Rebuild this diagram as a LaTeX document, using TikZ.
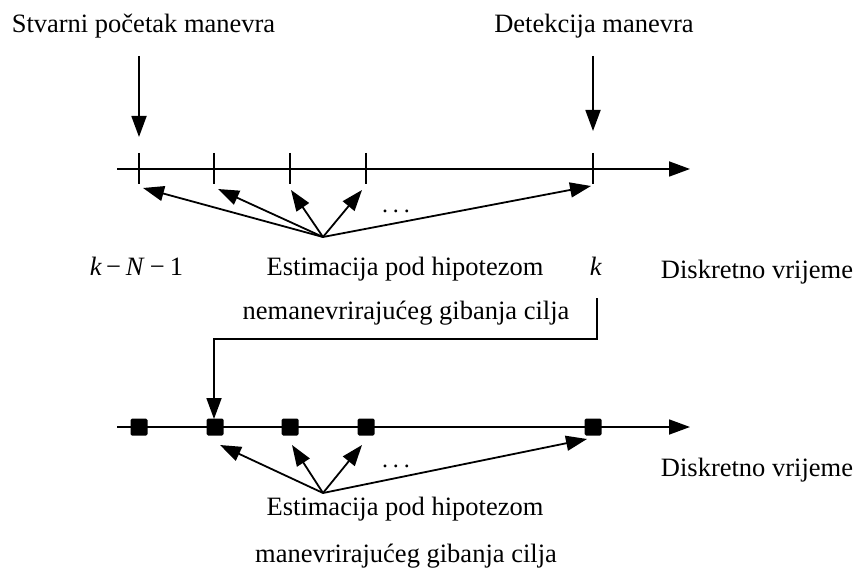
\documentclass[tikz,border=0pt]{standalone}
\usepackage{fontspec}
\setmainfont{Liberation Serif}
\usetikzlibrary{arrows.meta}
\begin{document}
\begin{tikzpicture}[x=1pt,y=-1pt,line width=1.8pt,
  arr/.style={-{Triangle[length=21pt,width=15pt]}},
  lbl/.style={font=\fontsize{26.5}{30}\selectfont,inner sep=0pt,anchor=base},
  dotsl/.style={font=\fontsize{24}{28}\selectfont,inner sep=0pt,anchor=base},
  tick/.style={line width=1.8pt},
  sq/.style={fill=black,minimum size=17pt,inner sep=0pt,rounded corners=1.5pt}]
\useasboundingbox (0,0) rectangle (856,577);

% top labels
\node[lbl] (stv) at (143.5,33) {Stvarni početak manevra};
\node[lbl] (det) at (594,33) {Detekcija manevra};
\coordinate (stvS) at (139,56);
\coordinate (stvE) at (139,137);
\coordinate (detS) at (593,56);
\coordinate (detE) at (593,131);
\draw[arr] (stvS) -- (stvE);
\draw[arr] (detS) -- (detE);

% first axis
\coordinate (a1s) at (117,169);
\coordinate (a1e) at (690,169);
\draw[arr] (a1s) -- (a1e);
\foreach \n/\x in {1/139,2/214,3/290,4/366,5/593}{
  \coordinate (tt\n) at (\x,153);
  \coordinate (tb\n) at (\x,184);
  \draw[tick] (tt\n) -- (tb\n);
}
\coordinate (ap1) at (323,237);
\coordinate (e11) at (143,188);
\coordinate (e12) at (218,189);
\coordinate (e13) at (291,190);
\coordinate (e14) at (362,190);
\coordinate (e15) at (591,186);
\foreach \n in {1,...,5}{\draw[arr] (ap1) -- (e1\n);}
\node[dotsl] (dots1) at (396,213) {.\hspace{5pt}.\hspace{5pt}.};

\node[lbl] (kn) at (136.5,275) {\textit{k}\hspace{4pt}−\hspace{5pt}\textit{N}\hspace{5pt}−\hspace{5pt}1};
\node[lbl] (est1) at (405,275) {Estimacija pod hipotezom};
\node[lbl] (kk) at (596,275) {\textit{k}};
\node[lbl] (dis1) at (757,279) {Diskretno vrijeme};
\node[lbl] (nem) at (406,319) {nemanevrirajućeg gibanja cilja};

% elbow
\coordinate (elS) at (597,298);
\coordinate (elA) at (597,339);
\coordinate (elB) at (214,339);
\coordinate (elE) at (214,419);
\draw[arr] (elS) -- (elA) -- (elB) -- (elE);

% second axis
\coordinate (a2s) at (117,427);
\coordinate (a2e) at (690,427);
\draw[arr] (a2s) -- (a2e);
\foreach \n/\x in {1/139,2/215,3/290,4/366,5/593}{
  \node[sq] (sq\n) at (\x,427) {};
}
\coordinate (ap2) at (323,493);
\coordinate (e22) at (220,445);
\coordinate (e23) at (292,445);
\coordinate (e24) at (362,445);
\coordinate (e25) at (587,439);
\foreach \n in {2,...,5}{\draw[arr] (ap2) -- (e2\n);}
\node[dotsl] (dots2) at (396,467) {.\hspace{5pt}.\hspace{5pt}.};

\node[lbl] (dis2) at (757,476) {Diskretno vrijeme};
\node[lbl] (est2) at (405,515) {Estimacija pod hipotezom};
\node[lbl] (man) at (406,562) {manevrirajućeg gibanja cilja};
\end{tikzpicture}
\end{document}
